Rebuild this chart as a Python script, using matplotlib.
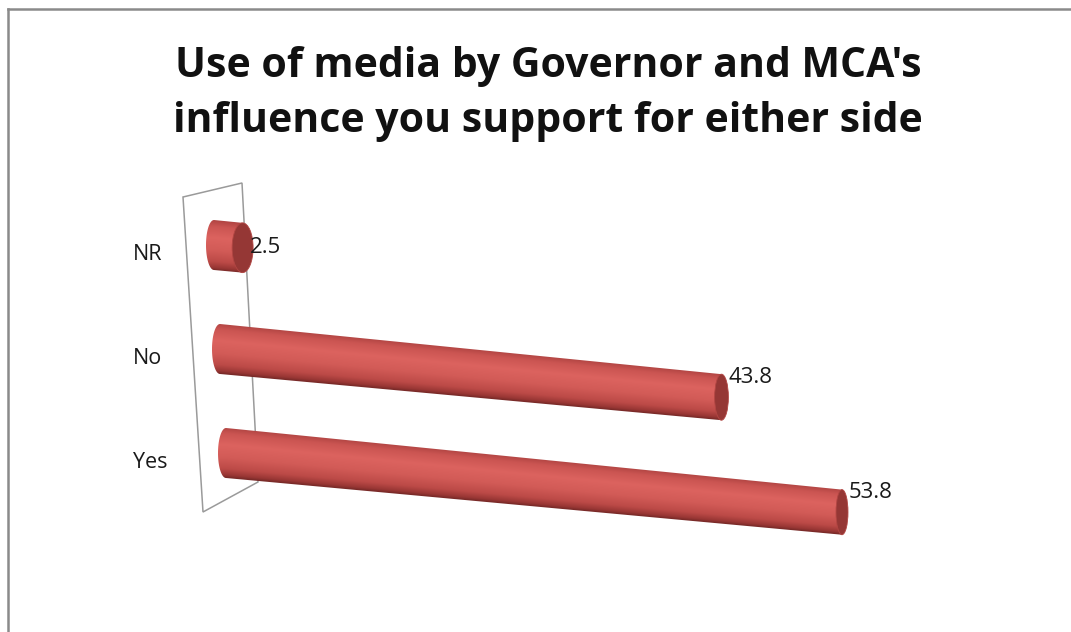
import numpy as np
import matplotlib
matplotlib.use("Agg")
import matplotlib.pyplot as plt
from matplotlib.transforms import Affine2D
from matplotlib.patches import Ellipse, Polygon, PathPatch
from matplotlib.path import Path
from matplotlib.lines import Line2D

# ---- data ----
categories = ["Yes", "No", "NR"]
values = [53.8, 43.8, 2.5]
value_labels = ["53.8", "43.8", "2.5"]
title = "Use of media by Governor and MCA's\ninfluence you support for either side"

W, H = 1071, 632
fig = plt.figure(figsize=(W / 100, H / 100), dpi=100)
ax = fig.add_axes([0, 0, 1, 1])
ax.set_xlim(0, W)
ax.set_ylim(H, 0)
ax.axis("off")

# oblique "3-D" projection: (value, category index) -> pixel position
proj = Affine2D(np.array([[11.45, -6.0, 226.0],
                          [1.1, -104.0, 453.0],
                          [0.0, 0.0, 1.0]]))

# outer chart border (top and left visible)
ax.add_line(Line2D([8, W], [9, 9], color="#8a8a8a", lw=1.8, zorder=1))
ax.add_line(Line2D([8, 8], [9, H], color="#8a8a8a", lw=1.8, zorder=1))

# back wall of the category axis
ax.add_patch(Polygon([(183, 197), (242, 183), (258, 482), (203, 512)],
                     closed=True, fill=False, edgecolor="#9a9a9a", lw=1.1, zorder=2))

# shading across cylinder (t=-1 top edge, t=+1 bottom edge)
stops_t = np.array([-1.0, -0.75, -0.3, 0.2, 0.65, 0.9, 1.0])
stops_c = np.array([[0xb0, 0x44, 0x42],
                    [0xcb, 0x55, 0x52],
                    [0xdc, 0x63, 0x5f],
                    [0xd2, 0x5b, 0x57],
                    [0xbc, 0x4a, 0x47],
                    [0x98, 0x36, 0x34],
                    [0x78, 0x2a, 0x28]]) / 255.0

def cap_a(x):
    return max(5.5, 10.5 - (x - 240) * 0.0075)

for ci, (cat, v, lab) in enumerate(zip(categories, values, value_labels)):
    xs, ys = proj.transform((0.0, ci))
    xe, ye = proj.transform((v, ci))
    r0 = 25.0
    r1 = 25.0 - 2.5 * (xe - xs) / 630.0
    a0 = 8.0
    a1 = cap_a(xe)

    # outline of body + rounded back end
    tt = np.linspace(0, np.pi, 40)
    arc = np.column_stack([xs - a0 * np.sin(tt), ys + r0 * np.cos(tt)])
    verts = np.vstack([[xs, ys - r0], [xe, ye - r1], [xe, ye + r1], [xs, ys + r0],
                       arc, [[xs, ys - r0]]])
    codes = [Path.MOVETO] + [Path.LINETO] * (len(verts) - 2) + [Path.CLOSEPOLY]
    clip = PathPatch(Path(verts, codes), transform=ax.transData,
                     facecolor="none", edgecolor="none")

    x0, x1 = xs - a0 - 3, xe + 3
    y0, y1 = min(ys, ye) - r0 - 3, max(ys, ye) + r0 + 3
    nx, ny = int((x1 - x0) * 2) + 2, int((y1 - y0) * 3) + 2
    gx = np.linspace(x0, x1, nx)
    gy = np.linspace(y0, y1, ny)
    GX, GY = np.meshgrid(gx, gy)
    frac = np.clip((GX - xs) / max(xe - xs, 1e-6), 0, 1)
    yc = ys + (ye - ys) * frac
    rr = r0 + (r1 - r0) * frac
    t = np.clip((GY - yc) / rr, -1, 1)
    img = np.stack([np.interp(t, stops_t, stops_c[:, k]) for k in range(3)], axis=-1)
    im = ax.imshow(img, extent=(x0, x1, y1, y0), origin="upper",
                   interpolation="bilinear", zorder=3, aspect="auto")
    im.set_clip_path(clip)

    # front end cap
    ax.add_patch(Ellipse((xe, ye), 2 * a1, 2 * r1, facecolor="#953735",
                         edgecolor="#b24643", lw=0.6, zorder=4))

    # value label
    ax.text(xe + 7, ye + 2 - 22 * min(1.0, v / 30.0), lab, ha="left", va="center",
            fontsize=16, family="Open Sans", color="#1a1a1a", zorder=5)
    # category label
    ax.text(133, ys + 9, cat, ha="left", va="center",
            fontsize=15.5, family="Open Sans", color="#1a1a1a", zorder=5)

ax.text(548, 94, title, ha="center", va="center", fontsize=29.5,
        fontweight="bold", family="Open Sans", color="#111111",
        linespacing=1.45, zorder=5)

ax.set_xlim(0, W)
ax.set_ylim(H, 0)
fig.savefig("out.png", dpi=100)
